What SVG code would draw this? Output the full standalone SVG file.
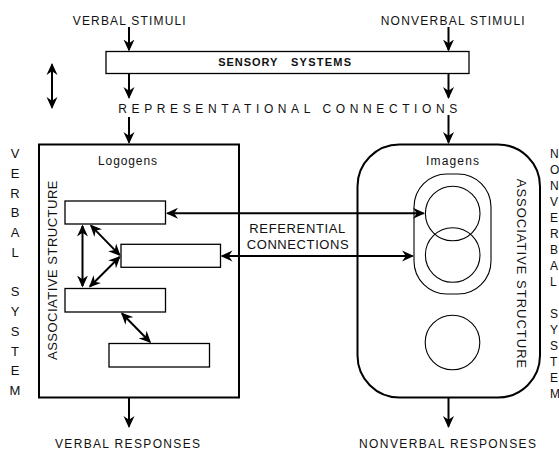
<svg xmlns="http://www.w3.org/2000/svg" width="559" height="452" viewBox="0 0 559 452">
  <style>
    text { font-family: "Liberation Sans", Arial, sans-serif; fill: #111; }
    .lbl { font-size: 12px; }
    .mid { font-size: 13px; }
    .vert { font-size: 13px; text-anchor: middle; }
    .bold { font-size: 11px; font-weight: bold; }
    .col { font-size: 13px; text-anchor: middle; }
    .colr { font-size: 12px; }
    .thick { fill: none; stroke: #000; stroke-width: 2; }
    .thin { fill: #fff; stroke: #000; stroke-width: 1.3; }
    .hair { fill: none; stroke: #000; stroke-width: 1.1; }
    .arr { fill: none; stroke: #000; stroke-width: 2; marker-end: url(#head); }
    .dbl { fill: none; stroke: #000; stroke-width: 2; marker-start: url(#head); marker-end: url(#head); }
  </style>
  <defs>
    <marker id="head" viewBox="0 -6 13 12" markerWidth="13" markerHeight="12" refX="10.5" refY="0" orient="auto-start-reverse" markerUnits="userSpaceOnUse">
      <path d="M12,0 L0,-5.5 L3.8,0 L0,5.5 Z" fill="#000"/>
    </marker>
  </defs>
  <rect width="559" height="452" fill="#fff"/>

  <!-- stimulus and response labels -->
  <g id="labels">
    <text class="lbl" x="72.7" y="25" textLength="113" lengthAdjust="spacing">VERBAL STIMULI</text>
    <text class="lbl" x="380.7" y="25" textLength="144" lengthAdjust="spacing">NONVERBAL STIMULI</text>
    <text class="lbl" x="118.3" y="113.3" textLength="339" lengthAdjust="spacing">REPRESENTATIONAL CONNECTIONS</text>
    <text class="mid" x="249.3" y="233.3" textLength="96" lengthAdjust="spacing">REFERENTIAL</text>
    <text class="mid" x="246.7" y="249.3" textLength="102" lengthAdjust="spacing">CONNECTIONS</text>
    <text class="lbl" x="55" y="448.3" textLength="145" lengthAdjust="spacing">VERBAL RESPONSES</text>
    <text class="lbl" x="359" y="448.3" textLength="177" lengthAdjust="spacing">NONVERBAL RESPONSES</text>
  </g>

  <!-- sensory systems bar -->
  <g id="sensory">
    <rect class="thin" x="106" y="51.5" width="363" height="22"/>
    <text class="bold" x="218.3" y="66" textLength="59" lengthAdjust="spacing">SENSORY</text>
    <text class="bold" x="291" y="66" textLength="60" lengthAdjust="spacing">SYSTEMS</text>
  </g>

  <!-- verbal system -->
  <g id="verbal-system">
    <rect class="thick" x="39" y="144.5" width="200" height="253"/>
    <text class="lbl" x="98" y="165" textLength="59" lengthAdjust="spacing">Logogens</text>
    <text class="vert" transform="translate(56.5,270) rotate(-90)" x="0" y="0" letter-spacing="0.5">ASSOCIATIVE STRUCTURE</text>
    <rect id="logogen-1" class="thin" x="65" y="201" width="100.5" height="23"/>
    <rect id="logogen-2" class="thin" x="121" y="244.3" width="99.5" height="23"/>
    <rect id="logogen-3" class="thin" x="65" y="288.5" width="100.5" height="23.5"/>
    <rect id="logogen-4" class="thin" x="109" y="343.5" width="100.5" height="23.5"/>
  </g>

  <!-- nonverbal system -->
  <g id="nonverbal-system">
    <rect class="thick" x="357.5" y="144.5" width="182.5" height="253" rx="42" ry="42"/>
    <text class="lbl" x="426" y="165" textLength="53" lengthAdjust="spacing">Imagens</text>
    <text class="vert" transform="translate(516.5,274) rotate(90)" x="0" y="0" letter-spacing="1">ASSOCIATIVE STRUCTURE</text>
    <rect id="imagen-group" class="hair" x="414" y="174" width="77" height="120" rx="33" ry="33"/>
    <circle id="imagen-1" class="hair" cx="452.7" cy="213.5" r="27.3"/>
    <circle id="imagen-2" class="hair" cx="452.7" cy="255" r="27.3"/>
    <circle id="imagen-3" class="hair" cx="452.5" cy="342.5" r="27.3"/>
  </g>

  <!-- system titles, one letter per line -->
  <g id="verbal-title" class="col">
    <text x="15" y="158">V</text>
    <text x="15" y="177.75">E</text>
    <text x="15" y="197.5">R</text>
    <text x="15" y="217.25">B</text>
    <text x="15" y="237">A</text>
    <text x="15" y="256.75">L</text>
    <text x="15" y="296.25">S</text>
    <text x="15" y="316">Y</text>
    <text x="15" y="335.75">S</text>
    <text x="15" y="355.5">T</text>
    <text x="15" y="375.25">E</text>
    <text x="15" y="395">M</text>
  </g>
  <g id="nonverbal-title" class="colr">
    <text x="550" y="158.2">N</text>
    <text x="550" y="174.2">O</text>
    <text x="550" y="190.2">N</text>
    <text x="550" y="206.2">V</text>
    <text x="550" y="222.2">E</text>
    <text x="550" y="238.2">R</text>
    <text x="550" y="254.2">B</text>
    <text x="550" y="270.2">A</text>
    <text x="550" y="286.2">L</text>
    <text x="550" y="318.2">S</text>
    <text x="550" y="334.2">Y</text>
    <text x="550" y="350.2">S</text>
    <text x="550" y="366.2">T</text>
    <text x="550" y="382.2">E</text>
    <text x="550" y="398.2">M</text>
  </g>

  <!-- connectors -->
  <g id="connectors">
    <line class="arr" x1="129" y1="27" x2="129" y2="50"/>
    <line class="arr" x1="129" y1="73.5" x2="129" y2="97.5"/>
    <line class="arr" x1="129" y1="117" x2="129" y2="142.5"/>
    <line class="arr" x1="448.5" y1="27" x2="448.5" y2="50"/>
    <line class="arr" x1="448.5" y1="73.5" x2="448.5" y2="97.5"/>
    <line class="arr" x1="448.5" y1="115" x2="448.5" y2="142.5"/>
    <line class="dbl" x1="52" y1="64.5" x2="52" y2="107.5"/>
    <line class="arr" x1="129" y1="398" x2="129" y2="426.5"/>
    <line class="arr" x1="448.5" y1="398" x2="448.5" y2="426.5"/>
    <line class="dbl" x1="167.5" y1="213.3" x2="423.5" y2="213.3"/>
    <line class="dbl" x1="222" y1="256" x2="412.5" y2="256"/>
    <line class="dbl" x1="82.5" y1="226" x2="82.5" y2="286"/>
    <line class="dbl" x1="91" y1="225.6" x2="119.5" y2="254.9"/>
    <line class="dbl" x1="90" y1="286.5" x2="119.5" y2="257"/>
    <line class="dbl" x1="122" y1="313.5" x2="150" y2="342"/>
  </g>
</svg>
